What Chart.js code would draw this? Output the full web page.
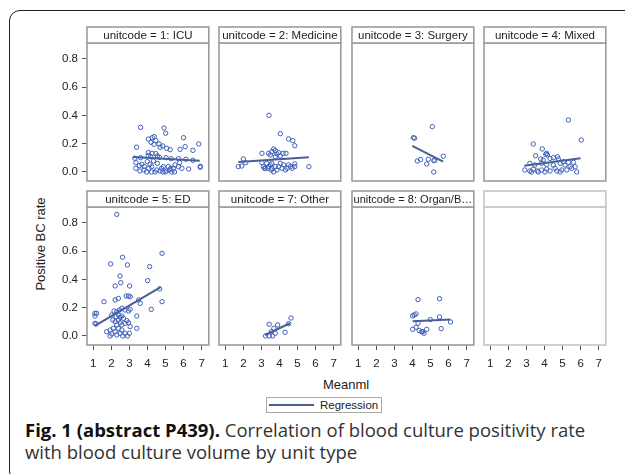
<!DOCTYPE html>
<html>
<head>
<meta charset="utf-8">
<script src="https://cdn.jsdelivr.net/npm/chart.js@4.4.1/dist/chart.umd.min.js"></script>
<style>
  body { margin: 0; background: #fff; }
  #fig { position: relative; width: 625px; height: 474px; overflow: hidden; font-family: "Liberation Sans", Arial, sans-serif; color: #222; }
  #fig canvas { position: absolute; }
  #frame { position: absolute; left: 9px; top: 10px; width: 640px; height: 470px; border: 1.8px solid #1e1e1e; border-radius: 11px; }
  #ytitle { position: absolute; left: 40px; top: 244px; transform: translate(-50%, -50%) rotate(-90deg); white-space: nowrap; font-size: 13px; }
  #xtitle { position: absolute; left: 346px; top: 384px; transform: translate(-50%, -50%); font-size: 13px; }
  #legend { position: absolute; left: 266px; top: 397px; width: 114px; height: 14px; border: 1px solid #a8a8a8; font-size: 11.5px; line-height: 14px; white-space: nowrap; }
  #legend .swatch { position: absolute; left: 2px; top: 6px; width: 45px; height: 2px; background: #4a5f8f; }
  #legend .txt { position: absolute; left: 53px; top: 0; }
  #caption { position: absolute; left: 25px; top: 419px; font-family: "Open Sans", sans-serif; font-size: 18.5px; line-height: 22px; color: #333; white-space: nowrap; }
  #caption b { color: #111; }
</style>
</head>
<body>
<div id="fig">
  <div id="frame"></div>
  <div id="ytitle">Positive BC rate</div>
  <div id="xtitle">Meanml</div>
  <div id="legend"><span class="swatch"></span><span class="txt">Regression</span></div>
  <div id="caption"><b>Fig. 1 (abstract P439).</b> Correlation of blood culture positivity rate<br>with blood culture volume by unit type</div>
</div>
<script>
// panel labels and axis ticks
const unitLabels = ['unitcode = 1: ICU', 'unitcode = 2: Medicine', 'unitcode = 3: Surgery', 'unitcode = 4: Mixed',
                    'unitcode = 5: ED', 'unitcode = 7: Other', 'unitcode = 8: Organ/B\u2026', ''];
const xTicks = [1, 2, 3, 4, 5, 6, 7];
const yTicks = [0, 0.2, 0.4, 0.6, 0.8];

// 1: ICU
const icuMean = [3.62,4.92,5.01,6.00,3.40,6.84,4.05,4.27,4.38,4.20,4.46,4.36,4.64,4.85,4.70,5.07,5.26,5.81,6.09,6.52,
  4.05,4.25,4.46,4.55,4.66,5.03,5.31,5.72,6.13,6.52,6.93,4.05,4.18,3.30,3.62,3.36,3.55,3.69,3.82,3.99,
  4.14,4.23,3.81,3.95,4.08,4.23,4.42,4.51,4.70,4.79,4.88,4.98,5.16,5.22,5.35,5.44,5.53,5.72,5.78,5.91,
  6.28,6.93,4.55,4.33,3.36,3.58,4.85,5.07,5.29,5.50];
const icuRate = [0.316,0.311,0.274,0.243,0.175,0.198,0.233,0.243,0.250,0.210,0.222,0.196,0.198,0.184,0.175,0.167,0.158,0.160,0.179,0.153,
  0.137,0.132,0.130,0.113,0.104,0.101,0.094,0.094,0.090,0.083,0.040,0.116,0.108,0.097,0.101,0.066,0.045,0.054,0.038,0.073,
  0.054,0.038,0.014,0,0.026,0,0,0.014,0.007,0.026,0.038,0,0.038,0.014,0,0.026,0.050,0.038,0.066,0.026,
  0.021,0.033,0.061,0.078,0.026,0.007,0,0.007,0.026,0];
const icuFitX = [3.2, 6.9];
const icuFitY = [0.106, 0.079];

// 2: Medicine
const medMean = [3.42,4.05,4.51,4.74,4.85,3.03,3.68,3.58,3.77,3.95,4.20,4.36,3.40,3.49,3.77,4.05,3.86,2.00,2.13,1.72,
  1.91,3.03,3.12,3.21,3.40,3.49,3.58,3.77,3.86,3.95,4.14,4.23,4.33,4.42,4.51,4.61,4.70,4.85,4.85,5.63,
  3.30,3.58,4.05,3.68,3.17,3.36,3.55];
const medRate = [0.401,0.271,0.234,0.222,0.186,0.132,0.163,0.144,0.151,0.137,0.132,0.132,0.132,0.120,0.108,0.113,0.127,0.092,0.066,0.038,
  0.042,0.066,0.038,0.026,0.038,0.050,0.026,0.038,0.014,0.038,0.026,0.050,0.014,0.026,0.050,0.038,0.026,0.057,0.038,0.038,
  0.061,0.061,0.061,0,0.026,0.026,0.014];
const medFitX = [1.72, 5.63];
const medFitY = [0.070, 0.104];

// 3: Surgery
const surMean = [5.10,4.05,4.12,5.71,4.27,4.45,4.88,4.79,5.18,5.24,5.18];
const surRate = [0.321,0.243,0.239,0.111,0.077,0.088,0.090,0.057,0.080,0.083,0];
const surFitX = [3.99, 5.70];
const surFitY = [0.184, 0.073];

// 4: Mixed
const mixMean = [5.33,6.04,3.38,3.88,4.12,4.07,4.16,3.51,3.79,3.93,4.31,4.49,4.72,4.77,3.19,3.47,3.84,4.12,4.49,4.87,
  5.05,5.33,5.61,5.70,5.42,5.14,2.91,3.19,3.38,3.60,3.84,4.03,4.31,4.68,4.96,5.24,5.51,5.79,3.28,3.66,
  4.12,4.59,4.87];
const mixRate = [0.368,0.226,0.198,0.163,0.132,0.125,0.120,0.115,0.092,0.085,0.096,0.101,0.108,0.092,0.061,0.049,0.061,0.054,0.049,0.061,
  0.073,0.068,0.068,0.037,0.037,0.049,0.014,0.007,0.019,0.007,0.014,0,0.007,0.007,0.014,0.014,0.026,0,0,0,
  0.021,0.026,0];
const mixFitX = [2.88, 6.0];
const mixFitY = [0.044, 0.097];

// 5: ED
const edMean = [2.30,4.81,2.62,1.96,2.89,4.12,2.48,4.01,2.52,2.21,3.01,4.68,1.59,2.21,2.39,2.82,2.95,3.04,3.60,3.51,
  4.81,4.21,1.09,1.18,1.09,2.15,2.30,2.45,2.58,2.76,2.95,3.04,3.41,1.09,1.15,2.02,2.26,2.39,2.49,2.58,
  2.67,2.39,2.21,2.49,2.30,2.08,2.58,2.76,2.86,2.95,2.11,2.39,2.58,1.93,2.21,1.74,2.02,2.30,2.49,2.76,
  1.93,2.63,2.89,3.00,3.41,3.04];
const edRate = [0.861,0.585,0.557,0.510,0.503,0.491,0.425,0.392,0.377,0.354,0.354,0.333,0.243,0.255,0.266,0.283,0.283,0.278,0.231,0.255,
  0.243,0.188,0.160,0.160,0.141,0.177,0.172,0.184,0.196,0.184,0.177,0.189,0.141,0.089,0.085,0.148,0.137,0.148,0.132,0.141,
  0.125,0.113,0.101,0.094,0.078,0.113,0.078,0.089,0.108,0.094,0.054,0.054,0.042,0.042,0.030,0.030,0.014,0.007,0.019,0.019,
  0,0,0,0.019,0.054,0.066];
const edFitX = [1.08, 4.73];
const edFitY = [0.072, 0.346];

// 7: Other
const othMean = [3.23,3.43,3.62,3.77,3.43,3.90,4.31,4.64,4.51,3.69,3.56];
const othRate = [0,0,0,0.019,0.083,0.078,0.026,0.127,0.087,0.054,0.031];
const othFitX = [3.2, 4.58];
const othFitY = [0.007, 0.090];

// 8: Organ/B...
const orgMean = [4.31,5.50,4.01,4.10,4.20,5.50,4.99,6.11,4.31,4.20,4.01,4.38,4.51,4.64,4.79,5.59,4.57];
const orgRate = [0.257,0.264,0.142,0.149,0.156,0.135,0.116,0.099,0.090,0.062,0.047,0.038,0.030,0.019,0.047,0.052,0.030];
const orgFitX = [4.01, 6.1];
const orgFitY = [0.104, 0.117];

const panels = [
  { mean: icuMean, rate: icuRate, fitX: icuFitX, fitY: icuFitY },
  { mean: medMean, rate: medRate, fitX: medFitX, fitY: medFitY },
  { mean: surMean, rate: surRate, fitX: surFitX, fitY: surFitY },
  { mean: mixMean, rate: mixRate, fitX: mixFitX, fitY: mixFitY },
  { mean: edMean, rate: edRate, fitX: edFitX, fitY: edFitY },
  { mean: othMean, rate: othRate, fitX: othFitX, fitY: othFitY },
  { mean: orgMean, rate: orgRate, fitX: orgFitX, fitY: orgFitY },
  { mean: [], rate: [], fitX: [], fitY: [] }
];

const family = '"Liberation Sans", Arial, sans-serif';
const pointColor = '#3f60b8';
const fitColor = '#4a5f8f';
const colLeft = [87, 219, 352, 484];
const rowTop = [43, 207];
const plotW = 122, plotH = 138;
const axisW = 40, axisH = 36, headH = 16;

// draws the grey panel box and the header cell above it
const panelFrame = {
  id: 'panelFrame',
  afterDraw(chart, args, opts) {
    const ctx = chart.ctx, a = chart.chartArea;
    const w = a.right - a.left;
    ctx.save();
    ctx.lineWidth = 1.6;
    ctx.strokeStyle = opts.color;
    ctx.strokeRect(a.left, a.top, w, a.bottom - a.top);
    const hTop = a.top - headH;
    ctx.fillStyle = '#fff';
    ctx.fillRect(a.left, hTop, w, headH);
    ctx.strokeRect(a.left, hTop, w, headH);
    ctx.fillStyle = '#222';
    ctx.font = '11.5px ' + family;
    ctx.textAlign = 'center';
    ctx.textBaseline = 'middle';
    // squeeze long labels into the cell like the original
    ctx.fillText(opts.label, (a.left + a.right) / 2, hTop + headH / 2 + 0.5, w - 3);
    ctx.restore();
  }
};

const fig = document.getElementById('fig');

panels.forEach(function(p, i) {
  const row = Math.floor(i / 4), col = i % 4;
  const cv = document.createElement('canvas');
  cv.width = axisW + plotW + 3;
  cv.height = headH + 2 + plotH + axisH;
  cv.style.left = (colLeft[col] - axisW) + 'px';
  cv.style.top = (rowTop[row] - headH - 2) + 'px';
  fig.appendChild(cv);

  const showY = col === 0;
  const showX = row === 1;

  new Chart(cv, {
    type: 'scatter',
    data: {
      datasets: [{
        data: p.mean.map((m, k) => ({ x: m, y: p.rate[k] })),
        pointStyle: 'circle',
        pointRadius: 2.2,
        pointHoverRadius: 2.2,
        pointBorderWidth: 1,
        borderColor: pointColor,
        backgroundColor: 'rgba(0,0,0,0)'
      }, {
        data: p.fitX.map((m, k) => ({ x: m, y: p.fitY[k] })),
        showLine: true,
        borderColor: fitColor,
        borderWidth: 2,
        pointRadius: 0
      }]
    },
    options: {
      responsive: false,
      animation: false,
      events: [],
      layout: { padding: { top: headH + 2, right: 3, left: 0, bottom: 0 } },
      plugins: {
        legend: { display: false },
        tooltip: { enabled: false },
        panelFrame: { label: unitLabels[i], color: i === 7 ? '#c6c6c6' : '#9c9c9c' }
      },
      scales: {
        x: {
          type: 'linear', min: 0.65, max: 7.4,
          afterBuildTicks: s => { s.ticks = xTicks.map(v => ({ value: v })); },
          afterFit: s => { s.height = axisH; },
          border: { display: false },
          grid: { display: showX, drawOnChartArea: false, tickLength: 5, tickColor: '#555', tickWidth: 1 },
          ticks: { display: showX, padding: 7, color: '#222', font: { size: 11.5, family: family }, maxRotation: 0, autoSkip: false }
        },
        y: {
          type: 'linear', min: -0.064, max: 0.913,
          afterBuildTicks: s => { s.ticks = yTicks.map(v => ({ value: v })); },
          afterFit: s => { s.width = axisW; },
          border: { display: false },
          grid: { display: showY, drawOnChartArea: false, tickLength: 5, tickColor: '#555', tickWidth: 1 },
          ticks: { display: showY, padding: 4, color: '#222', font: { size: 11.5, family: family }, callback: v => v.toFixed(1) }
        }
      }
    },
    plugins: [panelFrame]
  });
});
</script>
</body>
</html>
